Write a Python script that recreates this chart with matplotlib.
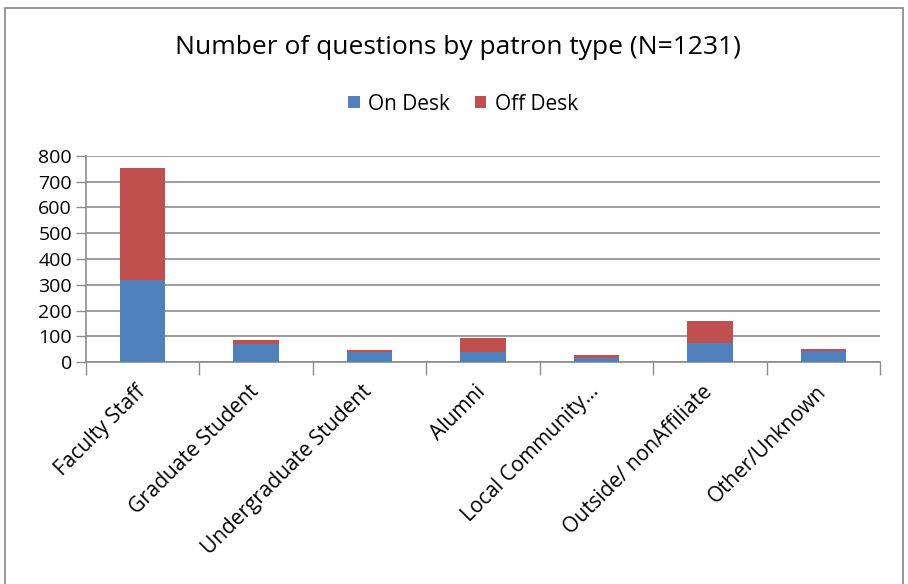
import matplotlib.pyplot as plt
import numpy as np
from matplotlib.patches import Rectangle
from matplotlib.transforms import ScaledTranslation

# values
categories = ["Faculty Staff", "Graduate Student", "Undergraduate Student", "Alumni",
              "Local Community...", "Outside/ nonAffiliate", "Other/Unknown"]
on_desk = [317, 71, 39, 37, 14, 75, 43]
off_desk = [436, 14, 9, 58, 14, 84, 9]
y_ticks = [0, 100, 200, 300, 400, 500, 600, 700, 800]

blue = "#4F81BD"
red = "#C0504D"
grid_col = "#8C8C8C"

plt.rcParams["font.family"] = ["Open Sans", "DejaVu Sans"]

W, H = 908, 584
fig = plt.figure(figsize=(W / 100, H / 100), dpi=100)
ax = fig.add_axes([86 / W, 1 - 362 / H, (880 - 86) / W, (362 - 156) / H])

x = np.arange(len(categories))
ax.bar(x, on_desk, width=0.4, color=blue, label="On Desk", zorder=3)
ax.bar(x, off_desk, width=0.4, bottom=on_desk, color=red, label="Off Desk", zorder=3)

ax.set_xlim(-0.5, len(categories) - 0.5)
ax.set_ylim(0, 800)
ax.set_yticks(y_ticks)
ax.yaxis.grid(True, color=grid_col, linewidth=1.2, zorder=0)
ax.set_axisbelow(True)

# category ticks sit between the bars
ax.set_xticks(np.arange(len(categories) + 1) - 0.5, minor=False)
ax.set_xticklabels([])
ax.tick_params(axis="x", length=9, color=grid_col, width=1)
ax.set_xticks(x, minor=True)
ax.set_xticklabels(categories, minor=True, rotation=45, ha="right",
                   rotation_mode="anchor", fontsize=15)
ax.tick_params(axis="x", which="minor", length=0, pad=14)
shift = ScaledTranslation(-8 / 100, 0, fig.dpi_scale_trans)
for lab in ax.get_xticklabels(minor=True):
    lab.set_transform(lab.get_transform() + shift)
ax.tick_params(axis="y", length=7, color=grid_col, width=1, labelsize=14, pad=3)

for s in ["top", "right"]:
    ax.spines[s].set_visible(False)
for s in ["left", "bottom"]:
    ax.spines[s].set_color(grid_col)
    ax.spines[s].set_linewidth(1.2)

fig.text(458 / W, 1 - 48 / H, "Number of questions by patron type (N=1231)",
         ha="center", va="center", fontsize=19)
fig.legend(loc="center", bbox_to_anchor=(463 / W, 1 - 104 / H), ncol=2, frameon=False,
           fontsize=15, handlelength=0.55, handleheight=0.55, handletextpad=0.4,
           columnspacing=1.2)

# outer chart border
fig.patches.append(Rectangle((5 / W, -0.05), (903 - 5) / W, 1.05 - 8 / H,
                             transform=fig.transFigure, fill=False,
                             edgecolor="#868686", linewidth=1.2))

fig.savefig("out.png", dpi=100)
